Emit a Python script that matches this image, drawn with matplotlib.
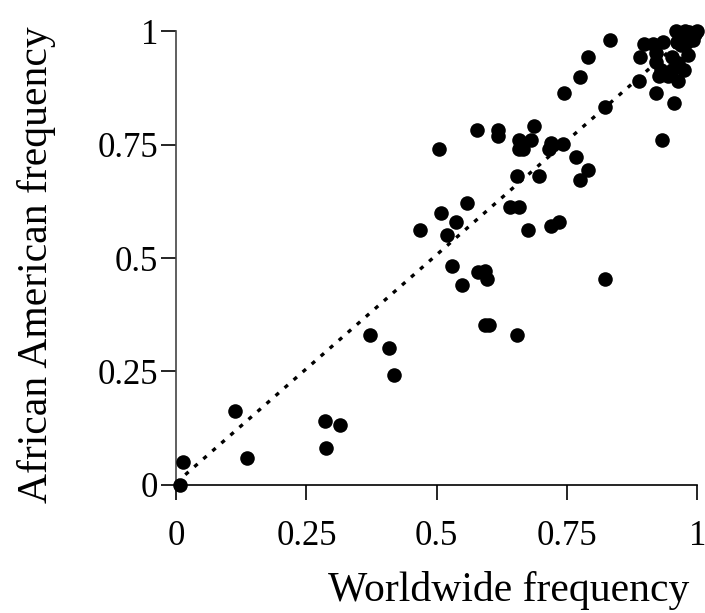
import matplotlib
matplotlib.use("Agg")
import matplotlib.pyplot as plt

# worldwide vs African American allele frequency
worldwide = [
    0.007, 0.013, 0.112, 0.135, 0.285, 0.314, 0.288, 0.372, 0.409, 0.417,
    0.467, 0.504, 0.508, 0.537, 0.559, 0.519, 0.530, 0.548, 0.577, 0.580,
    0.592, 0.596, 0.592, 0.600, 0.618, 0.618, 0.658, 0.680, 0.657, 0.666,
    0.686, 0.654, 0.697, 0.640, 0.658, 0.676, 0.720, 0.735, 0.654, 0.823,
    0.720, 0.716, 0.743, 0.768, 0.790, 0.775, 0.745, 0.775, 0.790, 0.833,
    0.823, 0.932, 0.921, 0.955, 0.888, 0.890, 0.897, 0.926, 0.943, 0.964,
    0.920, 0.920, 0.935, 0.951, 0.951, 0.963, 0.975, 0.982, 0.959, 0.962,
    0.979, 0.985, 0.995, 0.992, 0.916, 0.968, 0.973, 1.000, 0.977, 0.930,
]
african_american = [
    0.000, 0.051, 0.162, 0.060, 0.141, 0.132, 0.081, 0.330, 0.301, 0.242,
    0.562, 0.740, 0.600, 0.579, 0.622, 0.550, 0.482, 0.441, 0.782, 0.470,
    0.471, 0.453, 0.352, 0.352, 0.782, 0.769, 0.761, 0.761, 0.740, 0.740,
    0.791, 0.681, 0.681, 0.613, 0.613, 0.562, 0.571, 0.579, 0.330, 0.453,
    0.753, 0.741, 0.752, 0.723, 0.694, 0.673, 0.863, 0.900, 0.943, 0.980,
    0.832, 0.761, 0.863, 0.842, 0.891, 0.943, 0.971, 0.901, 0.901, 0.891,
    0.932, 0.951, 0.976, 0.943, 0.914, 0.929, 0.914, 0.947, 1.000, 0.976,
    0.974, 0.999, 0.995, 0.980, 0.973, 0.970, 0.991, 1.000, 1.000, 0.915,
]

# trend line end points
trend_x = [0.0, 1.0]
trend_y = [0.005, 1.01]

ticks = [0, 0.25, 0.5, 0.75, 1]
tick_labels = ["0", "0.25", "0.5", "0.75", "1"]

plt.rcParams.update({
    "font.family": ["Liberation Serif", "DejaVu Serif"],
    "font.size": 25,
})

fig = plt.figure(figsize=(7.05, 6.13), dpi=100)
ax = fig.add_axes([0.25, 0.209, 0.739, 0.74])

ax.plot(trend_x, trend_y, color="black", linestyle=(0, (1.3, 2.3)),
        linewidth=2.4, zorder=2)
ax.scatter(worldwide, african_american, s=110, color="black",
           clip_on=False, zorder=3, linewidths=0)

ax.set_xlim(0, 1)
ax.set_ylim(0, 1)
ax.set_xticks(ticks)
ax.set_xticklabels(tick_labels)
ax.set_yticks(ticks)
ax.set_yticklabels(tick_labels)

for side in ["top", "right"]:
    ax.spines[side].set_visible(False)
ax.spines["left"].set_color("#444444")
ax.spines["bottom"].set_color("black")
ax.spines["left"].set_linewidth(1.2)
ax.spines["bottom"].set_linewidth(1.2)
ax.tick_params(axis="both", direction="out", length=11, width=1.2,
               labelsize=25)
ax.tick_params(axis="y", pad=2)
ax.tick_params(axis="x", pad=14)

fig.text(0.722, 0.037, "Worldwide frequency", ha="center", va="center",
         fontsize=30)
fig.text(0.052, 0.568, "African American frequency", ha="center", va="center",
         rotation=90, fontsize=30)

fig.savefig("out.png", dpi=100)
